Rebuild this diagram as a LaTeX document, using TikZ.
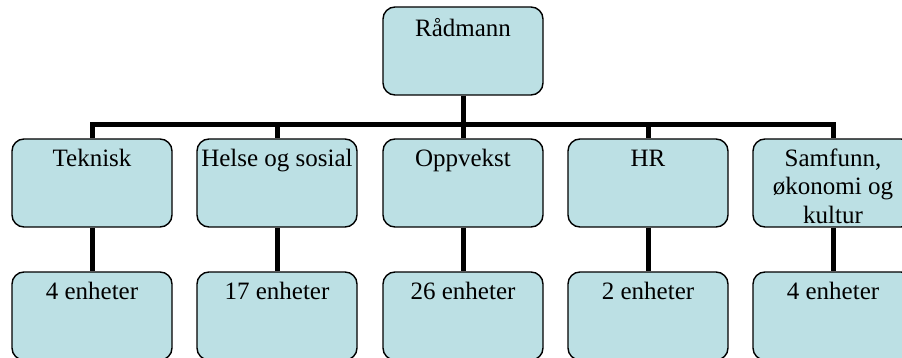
\documentclass[tikz,border=0pt]{standalone}
\usepackage{fontspec}
\setmainfont{Liberation Serif}
\definecolor{boxfill}{RGB}{188,224,228}
\begin{document}
\begin{tikzpicture}[x=1pt,y=-1pt,
  unit/.style={draw=black, line width=1.4pt, fill=boxfill, rounded corners=12pt,
    minimum width=160pt, minimum height=88pt, inner sep=0pt},
  lbl/.style={font=\fontsize{25}{28.5}\selectfont, inner sep=0pt, anchor=base},
  wire/.style={draw=black, line width=5pt}]
\useasboundingbox (0,0) rectangle (902,358);
\clip (0,0) rectangle (902,358);

% head of the organisation
\node[unit] (top) at (463,51) {};

% departments
\node[unit] (d1) at (92,183) {};
\node[unit] (d2) at (277,183) {};
\node[unit] (d3) at (463,183) {};
\node[unit] (d4) at (648,183) {};
\node[unit] (d5) at (833,183) {};

% units under each department
\node[unit] (u1) at (92,316) {};
\node[unit] (u2) at (277,316) {};
\node[unit] (u3) at (463,316) {};
\node[unit] (u4) at (648,316) {};
\node[unit] (u5) at (833,316) {};

% connectors
\coordinate (bus) at (0,125);
\draw[wire] (top.south) -- (top.south |- bus);
\draw[wire, line cap=rect] (d1.north |- bus) -- (d5.north |- bus);
\foreach \i in {1,...,5}{
  \draw[wire] (d\i.north |- bus) -- (d\i.north);
  \draw[wire] (d\i.south) -- (u\i.north);
}

% labels
\node[lbl] (ttop) at ([yshift=-30pt]top.north) {Rådmann};
\node[lbl] (t1) at ([yshift=-28pt]d1.north) {Teknisk};
\node[lbl] (t2) at ([yshift=-28pt]d2.north) {Helse og sosial};
\node[lbl] (t3) at ([yshift=-28pt]d3.north) {Oppvekst};
\node[lbl] (t4) at ([yshift=-28pt]d4.north) {HR};
\node[lbl] (t5) at ([yshift=-28pt]d5.north)
  {\begin{tabular}[t]{@{}c@{}}Samfunn,\\økonomi og\\kultur\end{tabular}};
\node[lbl] (v1) at ([yshift=-28pt]u1.north) {4 enheter};
\node[lbl] (v2) at ([yshift=-28pt]u2.north) {17 enheter};
\node[lbl] (v3) at ([yshift=-28pt]u3.north) {26 enheter};
\node[lbl] (v4) at ([yshift=-28pt]u4.north) {2 enheter};
\node[lbl] (v5) at ([yshift=-28pt]u5.north) {4 enheter};
\end{tikzpicture}
\end{document}
